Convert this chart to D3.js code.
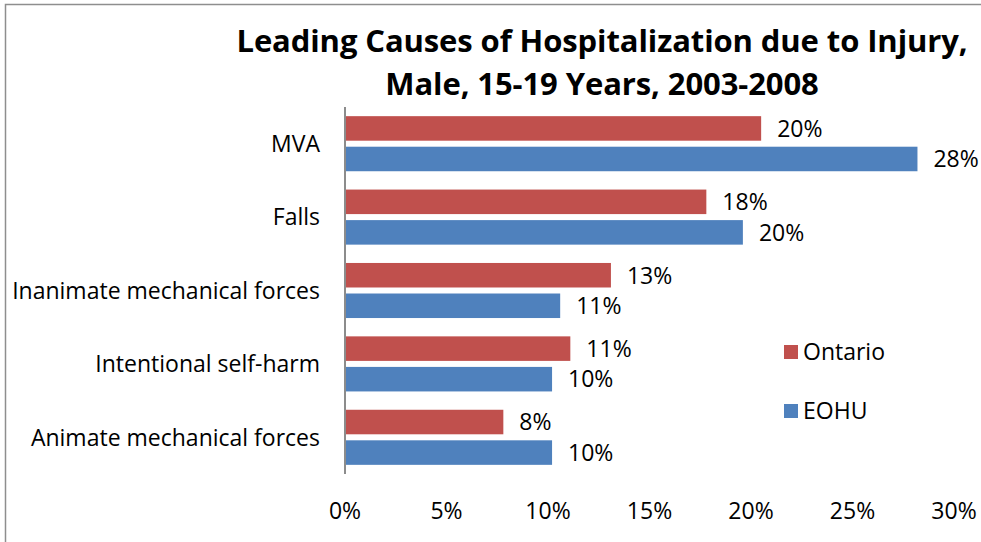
<!DOCTYPE html>
<html>
  <head>
    <style>
      body {margin: 0; background: #ffffff; overflow: hidden;}
      * {font-family: "Open Sans", sans-serif;}
    </style>
    <script src="https://d3js.org/d3.v7.min.js"></script>
  </head>
  <body>
    <div id="chart-div"></div>
    <script>
      const causes = ["MVA", "Falls", "Inanimate mechanical forces", "Intentional self-harm", "Animate mechanical forces"]
      const seriesNames = ["Ontario", "EOHU"]
      const ontario = [0.205, 0.178, 0.131, 0.111, 0.078]
      const eohu =    [0.282, 0.196, 0.106, 0.102, 0.102]
      const ontarioLabels = ["20%", "18%", "13%", "11%", "8%"]
      const eohuLabels =    ["28%", "20%", "11%", "10%", "10%"]
      const xTicks = [0, 0.05, 0.10, 0.15, 0.20, 0.25, 0.30]
      const titleLines = ["Leading Causes of Hospitalization due to Injury,", "Male, 15-19 Years, 2003-2008"]

      const colors = {Ontario: "#C0504D", EOHU: "#4F81BD"}

      var w = 981, h = 542
      var fontSize = "23px"

      let rows = causes.map((c, i) => ({
        cause: c,
        values: [
          {series: "Ontario", value: ontario[i], label: ontarioLabels[i]},
          {series: "EOHU", value: eohu[i], label: eohuLabels[i]}
        ]
      }))

      var svg = d3.select("#chart-div")
        .append("svg")
        .attr("width", w)
        .attr("height", h)
        .style("display", "block")

      // outer chart border, only left and top edges are inside the picture
      svg.append("path")
        .attr("d", "M5.5,600 L5.5,4.5 L1000,4.5")
        .style("fill", "none")
        .style("stroke", "#8e8e8e")
        .style("stroke-width", 1.5)

      var x = d3.scaleLinear().domain([0, 0.30]).range([345, 954])
      var y = d3.scaleBand().domain(causes).range([107, 474])
      var ySub = d3.scaleBand().domain(seriesNames)
        .range([0, y.bandwidth()])
        .paddingInner(0.197)
        .paddingOuter(0.30)

      // title
      svg.append("g").selectAll("text")
        .data(titleLines)
        .enter()
        .append("text")
          .attr("x", 602)
          .attr("y", (d, i) => 52 + i * 43)
          .attr("text-anchor", "middle")
          .style("font-weight", "bold")
          .style("font-size", "31px")
          .style("letter-spacing", "-0.1px")
          .text(d => d)

      var groups = svg.selectAll(".cause")
        .data(rows)
        .enter()
        .append("g")
          .attr("class", "cause")
          .attr("transform", d => "translate(0," + y(d.cause) + ")")

      groups.selectAll("rect")
        .data(d => d.values)
        .enter()
        .append("rect")
          .attr("x", x(0))
          .attr("y", d => ySub(d.series))
          .attr("width", d => x(d.value) - x(0))
          .attr("height", ySub.bandwidth())
          .style("fill", d => colors[d.series])

      groups.selectAll(".val")
        .data(d => d.values)
        .enter()
        .append("text")
          .attr("class", "val")
          .attr("x", d => x(d.value) + 16)
          .attr("y", d => ySub(d.series) + ySub.bandwidth() / 2)
          .attr("dy", "0.36em")
          .style("font-size", fontSize)
          .text(d => d.label)

      // category labels
      svg.append("g").selectAll("text")
        .data(causes)
        .enter()
        .append("text")
          .attr("x", 320)
          .attr("y", d => y(d) + y.bandwidth() / 2)
          .attr("dy", "0.36em")
          .attr("text-anchor", "end")
          .style("font-size", fontSize)
          .text(d => d)

      // vertical axis line
      svg.append("line")
        .attr("x1", x(0)).attr("x2", x(0))
        .attr("y1", 107).attr("y2", 474)
        .style("stroke", "#8c8c8c")
        .style("stroke-width", 2)

      // x tick labels
      svg.append("g").selectAll("text")
        .data(xTicks)
        .enter()
        .append("text")
          .attr("x", d => x(d))
          .attr("y", 519)
          .attr("text-anchor", "middle")
          .style("font-size", fontSize)
          .text(d => d3.format(".0%")(d))

      // legend
      var legend = svg.selectAll(".legend")
        .data(seriesNames)
        .enter()
        .append("g")
          .attr("class", "legend")
          .attr("transform", (d, i) => "translate(784," + (345 + i * 59) + ")")

      legend.append("rect")
        .attr("width", 14).attr("height", 14)
        .style("fill", d => colors[d])

      legend.append("text")
        .attr("x", 19)
        .attr("y", 7)
        .attr("dy", "0.36em")
        .style("font-size", fontSize)
        .text(d => d)
    </script>
  </body>
</html>
